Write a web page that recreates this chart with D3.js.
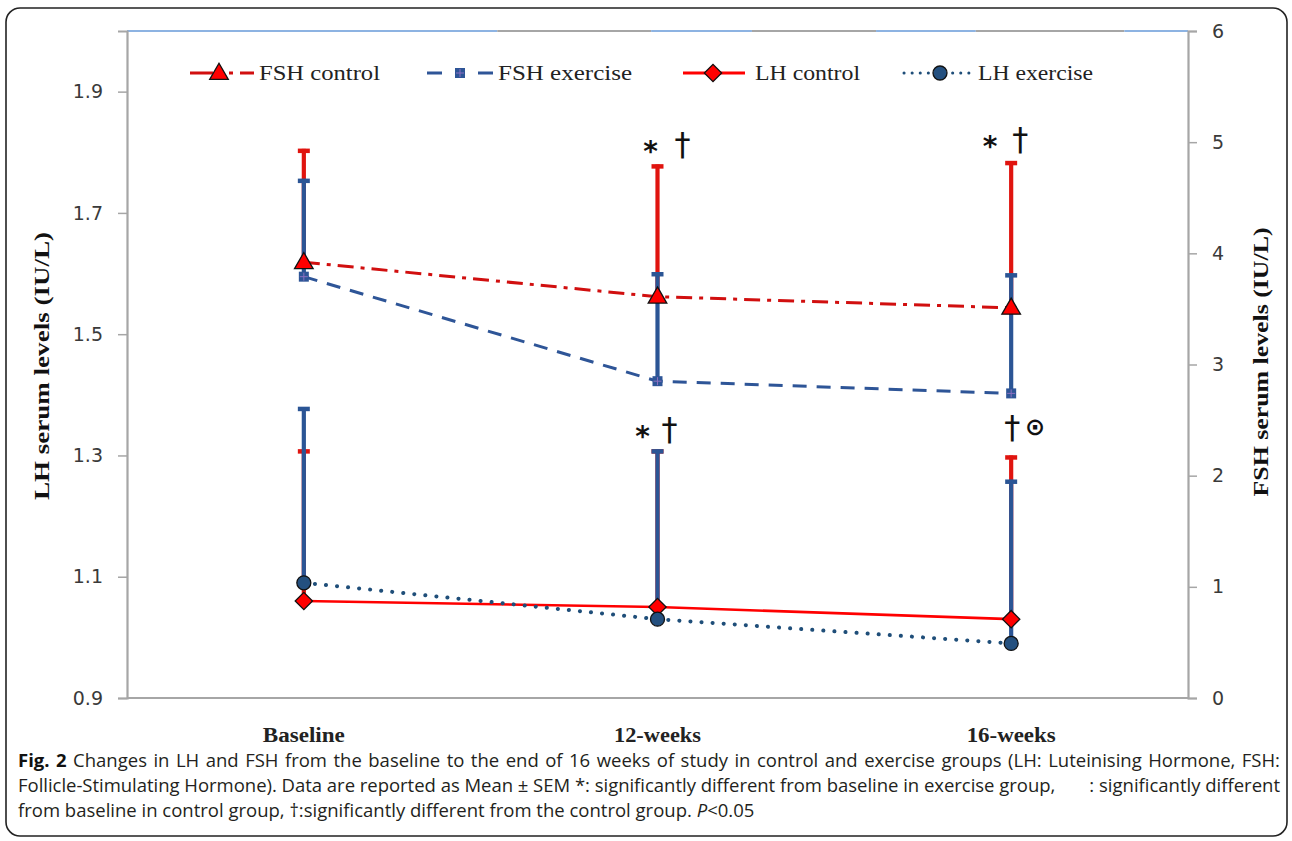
<!DOCTYPE html>
<html><head><meta charset="utf-8">
<script src="https://cdn.jsdelivr.net/npm/d3@7"></script>
<style>body{margin:0;background:#fff}svg{display:block}</style>
</head><body>
<svg id="c" width="1292" height="841"></svg>
<script>
// ---------------- data ----------------
const categories = ["Baseline", "12-weeks", "16-weeks"];
const fshControl = [3.92, 3.61, 3.51];
const fshControlUpper = [4.94, 4.80, 4.83];
const fshExercise = [3.79, 2.85, 2.74];
const fshExerciseUpper = [4.67, 3.83, 3.82];
const lhControl = [1.06, 1.05, 1.03];
const lhControlUpper = [1.31, 1.31, 1.30];
const lhExercise = [1.09, 1.03, 0.99];
const lhExerciseUpper = [1.38, 1.31, 1.26];
const lhTicks = [0.9, 1.1, 1.3, 1.5, 1.7, 1.9];
const fshTicks = [0, 1, 2, 3, 4, 5, 6];
const legendLabels = ["FSH control", "FSH  exercise", "LH control", "LH exercise"];
const annotCats = ["12-weeks", "16-weeks", "12-weeks", "16-weeks"];
const annotAxis = ["FSH", "FSH", "LH", "LH"];
const annotLevels = [4.97, 5.02, 1.342, 1.345];
const annotSymbols = [["*", "†"], ["*", "†"], ["*", "†"], ["†", "⊙"]];
const captionLine1 = " Changes in LH and FSH from the baseline to the end of 16 weeks of study in control and exercise groups (LH: Luteinising Hormone, FSH:";
const captionLine2a = "Follicle-Stimulating Hormone). Data are reported as Mean ± SEM *: significantly different from baseline in exercise group,";
const captionLine2b = ": significantly different";
const captionLine3 = "from baseline in control group, †:significantly different from the control group. ";

// ---------------- layout ----------------
const svg = d3.select("#c");
const L = 127, R = 1188, T = 31, B = 698;
const x = d3.scalePoint().domain(categories).range([L, R]).padding(0.5);
const yL = d3.scaleLinear().domain([0.9, 2.0]).range([B, T]);
const yR = d3.scaleLinear().domain([0, 6]).range([B, T]);

const RED_LINE = "#ff0000", RED_DARK = "#d10f0f", RED_ERR = "#e0140f";
const BLUE = "#2e5597", BLUE_DARK = "#1f4e79", BLUE_ERR = "#2b5595";

// outer frame
svg.append("rect").attr("x", 6).attr("y", 8).attr("width", 1281).attr("height", 828)
  .attr("rx", 14).attr("fill", "none").attr("stroke", "#222").attr("stroke-width", 1.6);

// top border of plot: blue / gray pieces
const topPieces = [[0, 0.349, "#8db3e2"], [0.349, 0.494, "#a6a6a6"], [0.494, 0.589, "#8db3e2"],
  [0.589, 0.706, "#a6a6a6"], [0.706, 0.8, "#8db3e2"], [0.8, 0.94, "#a6a6a6"], [0.94, 1, "#8db3e2"]];
topPieces.forEach(p => {
  svg.append("line").attr("x1", L + p[0] * (R - L)).attr("x2", L + p[1] * (R - L))
    .attr("y1", T).attr("y2", T).attr("stroke", p[2]).attr("stroke-width", 2);
});
// bottom line
svg.append("line").attr("x1", L).attr("x2", R).attr("y1", B).attr("y2", B)
  .attr("stroke", "#a6a6a6").attr("stroke-width", 2);

// axes
const axL = svg.append("g").attr("transform", `translate(${L},0)`)
  .call(d3.axisLeft(yL).tickValues(lhTicks).tickFormat(d3.format(".1f")).tickSize(9).tickPadding(15));
const axR = svg.append("g").attr("transform", `translate(${R},0)`)
  .call(d3.axisRight(yR).tickValues(fshTicks).tickFormat(d3.format("d")).tickSize(9).tickPadding(15));
[axL, axR].forEach(a => {
  a.select(".domain").attr("stroke", "#a6a6a6").attr("stroke-width", 2.2);
  a.selectAll(".tick line").attr("stroke", "#a6a6a6").attr("stroke-width", 1.5);
  a.selectAll(".tick text").attr("font-family", "DejaVu Sans").attr("font-size", 19)
    .attr("fill", "#3a3a3a");
});

// axis titles
svg.append("text").attr("transform", "translate(49,366) rotate(-90)")
  .attr("text-anchor", "middle").attr("font-family", "Liberation Serif").attr("font-weight", "bold")
  .attr("font-size", 22).attr("textLength", 268).attr("lengthAdjust", "spacingAndGlyphs")
  .attr("fill", "#111").text("LH serum levels  (IU/L)");
svg.append("text").attr("transform", "translate(1268,362) rotate(-90)")
  .attr("text-anchor", "middle").attr("font-family", "Liberation Serif").attr("font-weight", "bold")
  .attr("font-size", 22).attr("textLength", 269).attr("lengthAdjust", "spacingAndGlyphs")
  .attr("fill", "#111").text("FSH serum levels  (IU/L)");

// category labels
const catWidths = [82, 87, 89];
svg.selectAll("text.cat").data(categories).join("text").attr("class", "cat")
  .attr("x", d => x(d)).attr("y", 742).attr("text-anchor", "middle")
  .attr("font-family", "Liberation Serif").attr("font-weight", "bold").attr("font-size", 20)
  .attr("textLength", (d, i) => catWidths[i]).attr("lengthAdjust", "spacingAndGlyphs")
  .attr("fill", "#222").text(d => d);

// ---------------- series ----------------
const series = [
  { name: legendLabels[0], mean: fshControl, upper: fshControlUpper, y: yR, err: RED_ERR, line: RED_DARK, w: 3, dash: "16,7,4,7", sym: "tri" },
  { name: legendLabels[1], mean: fshExercise, upper: fshExerciseUpper, y: yR, err: BLUE_ERR, line: BLUE, w: 3, dash: "14,10", sym: "sq" },
  { name: legendLabels[2], mean: lhControl, upper: lhControlUpper, y: yL, err: RED_ERR, line: RED_LINE, w: 2.6, dash: null, sym: "dia" },
  { name: legendLabels[3], mean: lhExercise, upper: lhExerciseUpper, y: yL, err: BLUE_ERR, line: BLUE_DARK, w: 4, dash: "0.1,11", sym: "circ" }
];

function drawSymbol(g, sym, cx, cy) {
  if (sym === "tri") {
    g.append("path").attr("d", d3.symbol(d3.symbolTriangle, 150)())
      .attr("transform", `translate(${cx},${cy + 1})`).attr("fill", "#ff0000")
      .attr("stroke", "#111").attr("stroke-width", 1.3);
  } else if (sym === "sq") {
    g.append("path").attr("d", d3.symbol(d3.symbolSquare, 100)())
      .attr("transform", `translate(${cx},${cy})`).attr("fill", BLUE);
    g.append("path").attr("d", `M${cx - 4},${cy}H${cx + 4}M${cx},${cy - 4}V${cy + 4}`)
      .attr("stroke", "#8a6fc0").attr("stroke-width", 1);
  } else if (sym === "dia") {
    g.append("path").attr("d", d3.symbol(d3.symbolSquare, 150)())
      .attr("transform", `translate(${cx},${cy}) rotate(45)`).attr("fill", "#ff0000")
      .attr("stroke", "#111").attr("stroke-width", 1.3);
  } else {
    g.append("circle").attr("cx", cx).attr("cy", cy).attr("r", 7)
      .attr("fill", "#24507f").attr("stroke", "#111").attr("stroke-width", 1.3);
  }
}

// error bars (upper only)
const gErr = svg.append("g");
series.forEach(s => {
  categories.forEach((c, i) => {
    const cx = x(c);
    gErr.append("line").attr("x1", cx).attr("x2", cx)
      .attr("y1", s.y(s.mean[i])).attr("y2", s.y(s.upper[i]))
      .attr("stroke", s.err).attr("stroke-width", 4.2);
    gErr.append("line").attr("x1", cx - 6).attr("x2", cx + 6)
      .attr("y1", s.y(s.upper[i]) + 2).attr("y2", s.y(s.upper[i]) + 2)
      .attr("stroke", s.err).attr("stroke-width", 4.5);
  });
});

// lines
series.forEach(s => {
  const line = d3.line().x((d, i) => x(categories[i])).y(d => s.y(d));
  const p = svg.append("path").attr("d", line(s.mean)).attr("fill", "none")
    .attr("stroke", s.line).attr("stroke-width", s.w);
  if (s.dash) p.attr("stroke-dasharray", s.dash);
  if (s.sym === "circ") p.attr("stroke-linecap", "round");
});

// markers
const gM = svg.append("g");
series.forEach(s => {
  categories.forEach((c, i) => drawSymbol(gM, s.sym, x(c), s.y(s.mean[i])));
});

// significance annotations
const glyphStyle = {
  "*": { font: "DejaVu Sans", weight: "bold", size: 28, lift: 0.56 },
  "†": { font: "DejaVu Sans", weight: "normal", size: 32, lift: 0.3 },
  "⊙": { font: "DejaVu Sans", weight: "bold", size: 24, lift: 0.3 }
};
const annotOffsets = [[-7, 25], [-21, 9], [-15, 12], [1, 24]];
annotCats.forEach((c, k) => {
  const yy = (annotAxis[k] === "FSH" ? yR : yL)(annotLevels[k]);
  annotSymbols[k].forEach((g, j) => {
    const st = glyphStyle[g];
    svg.append("text").attr("x", x(c) + annotOffsets[k][j]).attr("y", yy + st.lift * st.size)
      .attr("text-anchor", "middle").attr("font-family", st.font).attr("font-weight", st.weight)
      .attr("font-size", st.size).attr("fill", "#111").text(g);
  });
});

// ---------------- legend ----------------
const lg = svg.append("g");
const legY = 73;
const legItems = [
  { s: series[0], x1: 190, x2: 254, sx: 219, tx: 259, tw: 121, dash: "23,16,4,7,14,100" },
  { s: series[1], x1: 427, x2: 493, sx: 460, tx: 498, tw: 134, dash: "15,36" },
  { s: series[2], x1: 683, x2: 745, sx: 713, tx: 755, tw: 105, dash: null },
  { s: series[3], x1: 904, x2: 972, sx: 940, tx: 978, tw: 115, dash: "0.1,8" }
];
legItems.forEach(it => {
  const l = lg.append("line").attr("x1", it.x1).attr("x2", it.x2).attr("y1", legY).attr("y2", legY)
    .attr("stroke", it.s.line).attr("stroke-width", 3);
  if (it.dash) l.attr("stroke-dasharray", it.dash);
  if (it.s.sym === "circ") l.attr("stroke-linecap", "round");
  drawSymbol(lg, it.s.sym, it.sx, legY);
  lg.append("text").attr("x", it.tx).attr("y", legY + 7).attr("font-family", "Liberation Serif")
    .attr("font-size", 21).attr("textLength", it.tw).attr("lengthAdjust", "spacingAndGlyphs")
    .attr("fill", "#222").text(it.s.name);
});

// ---------------- caption ----------------
const capFont = "Open Sans", capSize = 18.5, capColor = "#231f20";
const c1 = svg.append("text").attr("x", 18).attr("y", 767).attr("font-family", capFont)
  .attr("font-size", capSize).attr("fill", capColor);
c1.append("tspan").attr("font-weight", "bold").attr("fill", "#111").text("Fig. 2");
c1.append("tspan").text(captionLine1);
const c2 = svg.append("text").attr("x", 18).attr("y", 792).attr("font-family", capFont)
  .attr("font-size", capSize).attr("fill", capColor).text(captionLine2a);
const c2b = svg.append("text").attr("x", 1280).attr("y", 792).attr("text-anchor", "end")
  .attr("font-family", capFont).attr("font-size", capSize).attr("fill", capColor).text(captionLine2b);
const c3 = svg.append("text").attr("x", 18).attr("y", 817).attr("font-family", capFont)
  .attr("font-size", capSize).attr("fill", capColor);
c3.append("tspan").text(captionLine3);
c3.append("tspan").attr("font-style", "italic").text("P");
c3.append("tspan").text("<0.05");

function fit(sel, target) {
  const n = sel.node();
  const w = n.getComputedTextLength();
  const spaces = (n.textContent.match(/ /g) || []).length;
  if (w > target) {
    sel.attr("textLength", target).attr("lengthAdjust", "spacing");
  } else if (spaces) {
    sel.attr("word-spacing", (target - w) / spaces);
  }
}
fit(c1, 1280 - 18);
const c2bStart = 1280 - c2b.node().getComputedTextLength();
fit(c2, c2bStart - 34 - 18);
</script>
</body></html>
